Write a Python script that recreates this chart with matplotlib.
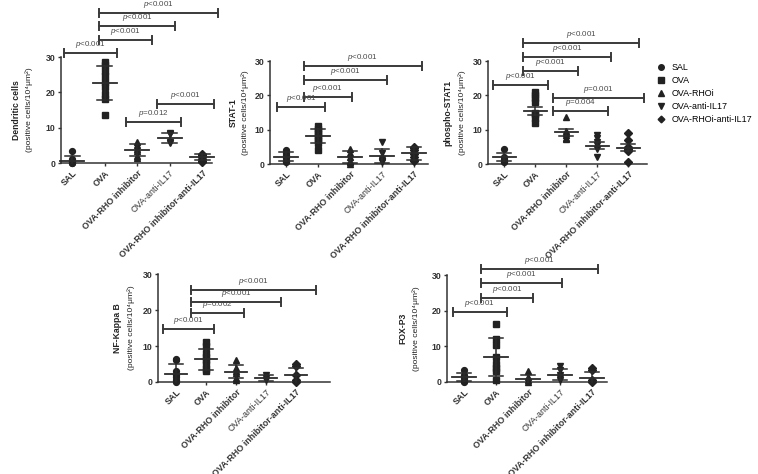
import matplotlib
matplotlib.use("Agg")
import matplotlib.pyplot as plt
from matplotlib.lines import Line2D
from matplotlib.transforms import offset_copy

plt.rcParams['font.family'] = ['Liberation Sans', 'DejaVu Sans']
plt.rcParams['mathtext.fontset'] = 'custom'
plt.rcParams['mathtext.rm'] = 'Liberation Sans'
plt.rcParams['mathtext.it'] = 'Liberation Sans:italic'
plt.rcParams['mathtext.bf'] = 'Liberation Sans:bold'

groups = ["SAL", "OVA", "OVA-RHO inhibitor", "OVA-anti-IL17", "OVA-RHO inhibitor-anti-IL17"]
legend_names = ["SAL", "OVA", "OVA-RHOi", "OVA-anti-IL17", "OVA-RHOi-anti-IL17"]
markers = ["o", "s", "^", "v", "D"]

# ---- Dendritic cells ----
dc_points = [[3.5, 1.0, 0.5, 0.0, 0.0],
             [28.7, 27.8, 26.0, 24.5, 23.0, 21.5, 19.5, 18.0, 13.5],
             [6.0, 5.2, 4.0, 3.5, 2.0, 1.3],
             [8.5, 8.2, 6.0, 5.6],
             [2.5, 2.2, 1.8, 1.0, 0.5, 0.3]]
dc_mean = [0.7, 22.6, 3.8, 7.1, 1.7]
dc_err = [1.4, 4.8, 1.7, 1.4, 0.85]
dc_brackets = [(-0.25, 1.38, 31.2, "p<0.001"), (0.83, 2.46, 34.8, "p<0.001"),
               (0.83, 3.17, 38.8, "p<0.001"), (0.83, 4.49, 42.5, "p<0.001"),
               (1.66, 3.35, 11.6, "p=0.012"), (2.62, 4.37, 16.7, "p<0.001")]

# ---- STAT-1 ----
st_points = [[4.0, 3.2, 2.5, 1.8, 1.0, 0.5],
             [11.0, 10.3, 9.5, 9.0, 8.3, 7.5, 7.0, 6.2, 4.0],
             [4.5, 3.2, 2.0, 1.0, 0.5, 0.1],
             [6.3, 3.2, 1.5, 1.0, 0.8, 0.5],
             [5.0, 4.6, 4.0, 3.0, 2.0, 1.3, 1.0]]
st_mean = [2.1, 8.2, 2.1, 2.3, 3.1]
st_err = [1.3, 2.1, 1.7, 2.1, 1.8]
st_brackets = [(-0.28, 1.22, 16.6, "p<0.001"), (0.56, 2.06, 19.5, "p<0.001"),
               (0.56, 3.16, 24.5, "p<0.001"), (0.56, 4.25, 28.6, "p<0.001")]

# ---- phospho-STAT1 ----
ps_points = [[4.5, 2.0, 1.5, 1.0, 0.5],
             [21.0, 20.0, 19.2, 18.0, 15.0, 14.5, 13.5, 12.0],
             [13.8, 9.5, 9.0, 8.5, 7.5, 7.2],
             [8.5, 7.5, 6.5, 5.5, 4.5, 2.0],
             [9.0, 7.0, 5.0, 4.5, 4.0, 3.8, 0.5]]
ps_mean = [2.1, 15.5, 9.2, 5.3, 4.8]
ps_err = [1.2, 1.2, 0.9, 1.0, 0.9]
ps_brackets = [(-0.35, 1.42, 23.0, "p<0.001"), (0.61, 2.39, 27.1, "p<0.001"),
               (0.61, 3.45, 31.2, "p<0.001"), (0.61, 4.35, 35.3, "p<0.001"),
               (1.58, 3.35, 15.4, "p=0.004"), (1.58, 4.52, 19.2, "p=0.001")]

# ---- NF-Kappa B ----
nf_points = [[6.5, 6.0, 3.0, 2.0, 1.5, 0.5, 0.0],
             [11.0, 10.0, 8.0, 7.0, 6.0, 5.0, 3.5, 3.0],
             [6.0, 4.0, 3.0, 2.5, 1.0, 0.5],
             [2.0, 1.0, 0.5],
             [5.0, 4.5, 2.0, 0.5, 0.0]]
nf_mean = [2.3, 6.3, 2.8, 1.1, 2.0]
nf_err = [2.6, 2.9, 1.8, 0.95, 2.0]
nf_brackets = [(-0.43, 1.27, 14.7, "p<0.001"), (0.5, 2.27, 19.2, "p=0.002"),
               (0.5, 3.5, 22.2, "p<0.001"), (0.5, 4.67, 25.6, "p<0.001")]

# ---- FOX-P3 ----
fx_points = [[3.5, 2.0, 1.0, 0.5, 0.3, 0.0],
             [16.2, 12.0, 10.5, 7.0, 5.0, 4.0, 3.0, 0.5],
             [3.0, 1.5, 0.5, 0.0],
             [4.5, 3.5, 2.0, 1.0, 0.5],
             [4.0, 3.5, 0.5, 0.0]]
fx_mean = [1.4, 7.0, 0.9, 2.1, 1.1]
fx_err = [1.1, 5.2, 1.1, 1.6, 1.6]
fx_brackets = [(-0.34, 1.34, 19.6, "p<0.001"), (0.53, 2.16, 23.5, "p<0.001"),
               (0.53, 3.06, 27.7, "p<0.001"), (0.53, 4.19, 31.7, "p<0.001")]

fig = plt.figure(figsize=(7.58, 4.74), dpi=100)

dark = "#2b2b2b"


def draw_panel(rect, xlim, points, mean, err, brackets, title, lab_dx):
    ax = fig.add_axes(rect)
    for i in range(len(groups)):
        ax.plot([i] * len(points[i]), points[i], linestyle="none", marker=markers[i],
                markersize=4.2 if markers[i] != "D" else 3.6, color="#222222", clip_on=False, zorder=3)
        ax.plot([i - 0.37, i + 0.37], [mean[i], mean[i]], color=dark, lw=1.3, zorder=4, clip_on=False)
        lo = max(mean[i] - err[i], 0)
        hi = mean[i] + err[i]
        ax.plot([i, i], [lo, hi], color=dark, lw=1.1, zorder=4, clip_on=False)
        ax.plot([i - 0.23, i + 0.23], [hi, hi], color=dark, lw=1.1, zorder=4, clip_on=False)
        if mean[i] - err[i] > 0:
            ax.plot([i - 0.23, i + 0.23], [lo, lo], color=dark, lw=1.1, zorder=4, clip_on=False)
    for x0, x1, yb, lab in brackets:
        ax.plot([x0, x1], [yb, yb], color="#3a3a3a", lw=1.4, clip_on=False)
        for xe in (x0, x1):
            ax.plot([xe, xe], [yb - 1.1, yb + 1.1], color="#3a3a3a", lw=1.4, clip_on=False)
        ax.text((x0 + x1) / 2, yb + 0.8, r"$\it{p}$" + lab[1:], ha="center", va="bottom",
                fontsize=5.8, color="#4a4a4a")
    ax.set_xlim(*xlim)
    ax.set_ylim(0, 30)
    ax.set_yticks([0, 10, 20, 30])
    ax.set_xticks(range(len(groups)))
    ax.set_xticklabels(groups, rotation=45, ha="right", rotation_mode="anchor", fontsize=6.4)
    for k, t in enumerate(ax.get_xticklabels()):
        t.set_fontweight("normal" if k == 3 else "bold")
    for t in ax.get_yticklabels():
        t.set_fontweight("bold")
        t.set_fontsize(6.3)
    for s in ("top", "right"):
        ax.spines[s].set_visible(False)
    for s in ("left", "bottom"):
        ax.spines[s].set_linewidth(1.1)
        ax.spines[s].set_color("#333333")
    ax.tick_params(axis="both", length=2.5, width=1.0, pad=1.5, colors="#333333")
    tr1 = offset_copy(ax.transAxes, fig=fig, x=lab_dx[0], y=0, units="dots")
    tr2 = offset_copy(ax.transAxes, fig=fig, x=lab_dx[1], y=0, units="dots")
    ax.text(0, 0.5, title, transform=tr1, rotation=90, ha="center", va="center",
            fontsize=6.2, fontweight="bold", color="#222222")
    ax.text(0, 0.5, "(positive cells/10⁴μm²)", transform=tr2, rotation=90,
            ha="center", va="center", fontsize=6.1, color="#222222")
    return ax


draw_panel([0.0805, 0.6561, 0.1992, 0.2236], (-0.34, 4.3), dc_points, dc_mean, dc_err,
           dc_brackets, "Dendritic cells", (-45, -32))
draw_panel([0.3562, 0.654, 0.2084, 0.2173], (-0.5, 4.44), st_points, st_mean, st_err,
           st_brackets, "STAT-1", (-37, -25))
draw_panel([0.6438, 0.654, 0.2098, 0.2173], (-0.52, 4.61), ps_points, ps_mean, ps_err,
           ps_brackets, "phospho-STAT1", (-40, -26))
draw_panel([0.2084, 0.1941, 0.2269, 0.2278], (-0.6, 5.13), nf_points, nf_mean, nf_err,
           nf_brackets, "NF-Kappa B", (-40, -27))
draw_panel([0.5897, 0.1941, 0.2111, 0.2257], (-0.53, 4.47), fx_points, fx_mean, fx_err,
           fx_brackets, "FOX-P3", (-44, -31))

handles = [Line2D([], [], linestyle="none", marker=m, color="#222222",
                  markersize=4.0 if m != "D" else 3.4) for m in markers]
fig.legend(handles, legend_names, loc="upper left", bbox_to_anchor=(0.862, 0.875),
           frameon=False, fontsize=6.4, handletextpad=0.6, labelspacing=0.45,
           handlelength=1.0, borderaxespad=0)

fig.savefig("out.png", dpi=100)
